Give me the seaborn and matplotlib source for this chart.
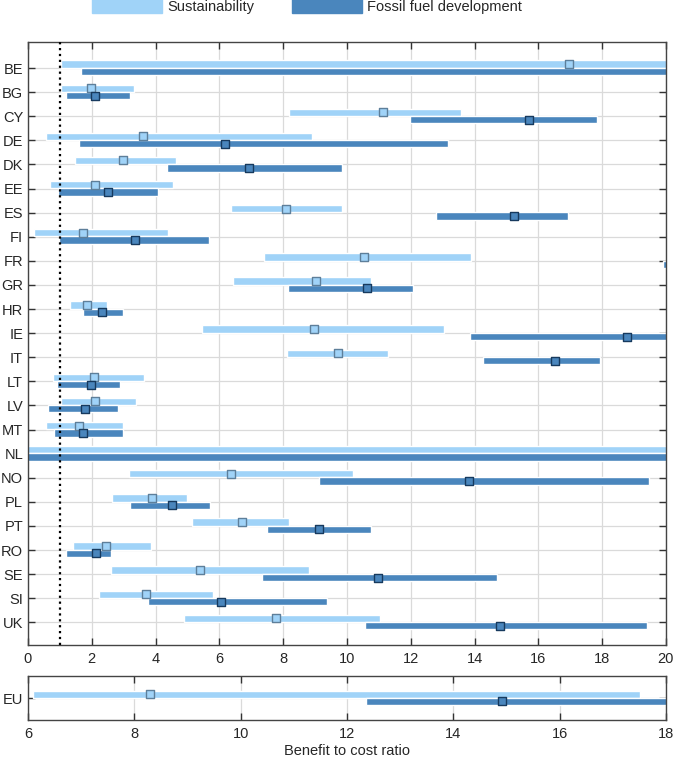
import numpy as np
import pandas as pd
import seaborn as sns
import matplotlib
matplotlib.use("Agg")
import matplotlib.pyplot as plt
from matplotlib.patches import Patch

countries = ["BE", "BG", "CY", "DE", "DK", "EE", "ES", "FI", "FR", "GR", "HR", "IE", "IT",
             "LT", "LV", "MT", "NL", "NO", "PL", "PT", "RO", "SE", "SI", "UK"]

# sustainability scenario: low / central / high benefit to cost ratio
sus_low = [1.03, 1.03, 8.18, 0.58, 1.48, 0.68, 6.36, 0.18, 7.40, 6.44, 1.33, 5.47, 8.12,
           0.77, 1.02, 0.56, -0.5, 3.17, 2.63, 5.15, 1.41, 2.60, 2.24, 4.90]
sus_mid = [16.95, 1.98, 11.14, 3.62, 2.99, 2.10, 8.10, 1.72, 10.54, 9.02, 1.86, 8.98, 9.73,
           2.07, 2.10, 1.60, 24.0, 6.36, 3.88, 6.71, 2.45, 5.39, 3.71, 7.78]
sus_high = [24.0, 3.31, 13.58, 8.89, 4.63, 4.55, 9.85, 4.39, 13.90, 10.75, 2.49, 13.04, 11.30,
            3.63, 3.40, 2.99, 30.0, 10.18, 4.99, 8.17, 3.85, 8.82, 5.79, 11.03]

# fossil fuel development scenario
ff_low = [1.67, 1.19, 11.98, 1.59, 4.35, 0.93, 12.79, 0.96, 19.90, 8.14, 1.72, 13.85, 14.27,
          0.91, 0.62, 0.83, -0.5, 9.13, 3.20, 7.48, 1.18, 7.33, 3.75, 10.56]
ff_mid = [21.5, 2.10, 15.72, 6.19, 6.94, 2.52, 15.24, 3.35, 22.0, 10.64, 2.33, 18.77, 16.52,
          1.99, 1.79, 1.73, 26.0, 13.82, 4.51, 9.13, 2.13, 10.96, 6.06, 14.81]
ff_high = [26.0, 3.21, 17.83, 13.17, 9.85, 4.09, 16.92, 5.68, 25.0, 12.06, 2.98, 24.0, 17.94,
           2.90, 2.83, 2.99, 30.0, 19.46, 5.70, 10.76, 2.59, 14.70, 9.38, 19.42]

# EU aggregate
eu_sus = [6.10, 8.30, 17.51]
eu_ff = [12.35, 14.91, 19.5]

sus_color = "#a0d3f8"
ff_color = "#4a86bd"
sus_edge = "#5e7f9a"
ff_edge = "#173a5e"

sns.set_theme(style="ticks")
plt.rcParams["font.family"] = ["Liberation Sans", "DejaVu Sans"]
plt.rcParams["font.size"] = 10.5

fig = plt.figure(figsize=(6.74, 7.60), dpi=100)
ax = fig.add_axes([0.0415, 0.151, 0.9465, 0.7937])
ax_eu = fig.add_axes([0.0415, 0.0526, 0.9465, 0.0577])

df = pd.DataFrame({"country": countries, "sus_low": sus_low, "sus_mid": sus_mid,
                   "sus_high": sus_high, "ff_low": ff_low, "ff_mid": ff_mid, "ff_high": ff_high})
df["row"] = np.arange(len(df)) + 1.0

off_sus, off_ff, bh = -0.165, 0.14, 0.305


def draw_rows(a, rows, s_lo, s_mid, s_hi, f_lo, f_mid, f_hi):
    a.barh(rows + off_sus, np.array(s_hi) - np.array(s_lo), left=s_lo, height=bh,
           color=sus_color, zorder=2)
    a.barh(rows + off_ff, np.array(f_hi) - np.array(f_lo), left=f_lo, height=bh,
           color=ff_color, zorder=2)
    sns.scatterplot(x=s_mid, y=rows + off_sus, ax=a, marker="s", s=28, color=sus_color,
                    edgecolor=sus_edge, linewidth=1.0, zorder=4, legend=False)
    sns.scatterplot(x=f_mid, y=rows + off_ff, ax=a, marker="s", s=28, color=ff_color,
                    edgecolor=ff_edge, linewidth=1.0, zorder=4, legend=False)


draw_rows(ax, df["row"].values, df["sus_low"], df["sus_mid"], df["sus_high"],
          df["ff_low"], df["ff_mid"], df["ff_high"])
ax.axvline(1, color="black", ls=":", lw=1.6, zorder=3)

ax.set_xlim(0, 20)
ax.set_ylim(24.95, -0.08)
ax.set_xticks(np.arange(0, 21, 2))
ax.set_yticks(df["row"].values)
ax.set_yticklabels(countries)
ax.set_xlabel("")
ax.set_ylabel("")

draw_rows(ax_eu, np.array([0.0]), [eu_sus[0]], [eu_sus[1]], [eu_sus[2]],
          [eu_ff[0]], [eu_ff[1]], [eu_ff[2]])
ax_eu.set_xlim(6, 18)
ax_eu.set_ylim(0.95, -0.95)
ax_eu.set_xticks(np.arange(6, 19, 2))
ax_eu.set_yticks([0])
ax_eu.set_yticklabels(["EU"])
ax_eu.set_xlabel("Benefit to cost ratio", fontsize=10.5, labelpad=2)
ax_eu.set_ylabel("")

for a in (ax, ax_eu):
    a.grid(True, color="#dadada", lw=0.9, zorder=0)
    a.set_axisbelow(True)
    a.tick_params(direction="in", top=True, right=True, length=5, width=1,
                  color="#333333", labelsize=10.5, pad=5)
    a.tick_params(axis="y", pad=3.5)
    for sp in a.spines.values():
        sp.set_color("#444444")
        sp.set_linewidth(1.0)

handles = [Patch(color=sus_color, label="Sustainability"),
           Patch(color=ff_color, label="Fossil fuel development")]
fig.legend(handles=handles, loc="upper center", bbox_to_anchor=(0.456, 1.018), ncol=2,
           frameon=False, handlelength=4.8, handleheight=1.1, columnspacing=2.6,
           handletextpad=0.35, fontsize=10.5)

fig.savefig("out.png", dpi=100)
